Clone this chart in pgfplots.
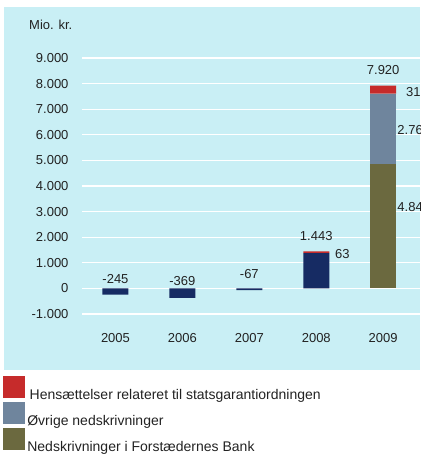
\documentclass[border=0pt]{standalone}
\usepackage{pgfplots}
\pgfplotsset{compat=1.18}
\usepackage{fontspec}
\setmainfont{Liberation Sans}
\definecolor{panel}{HTML}{C9EFF5}
\definecolor{navy}{HTML}{162B63}
\definecolor{cred}{HTML}{C62B2B}
\definecolor{slate}{HTML}{6F859D}
\definecolor{olive}{HTML}{6B693F}
\definecolor{txt}{HTML}{222222}
\tikzset{lbl/.style={text=txt, font=\fontsize{13}{15}\selectfont, inner sep=0pt}}
\begin{document}
\begin{tikzpicture}
\fill[panel] (4pt,85pt) rectangle (420pt,448pt);
\node[anchor=west, text=txt, font=\fontsize{13}{15}\selectfont, inner sep=0pt] at (29pt,430pt) {Mio. kr.};
\begin{axis}[
  at={(82pt,141pt)}, anchor=south west,
  scale only axis, width=338pt, height=256pt,
  ybar stacked, bar width=26pt,
  xmin=-0.5, xmax=4.55, ymin=-1000, ymax=9000,
  xtick={0,1,2,3,4}, xticklabels={2005,2006,2007,2008,2009},
  ytick={-1000,0,1000,2000,3000,4000,5000,6000,7000,8000,9000},
  yticklabels={-1.000,0,1.000,2.000,3.000,4.000,5.000,6.000,7.000,8.000,9.000},
  ymajorgrids, grid style={white, line width=1.3pt},
  axis line style={draw=none}, tick style={draw=none},
  major tick length=0pt,
  ticklabel style={text=txt, font=\fontsize{13}{15}\selectfont},
  yticklabel style={xshift=-10pt},
  xticklabel style={yshift=-16pt},
  clip=false,
  reverse legend,
  legend image code/.code={\fill[#1] (0pt,-2.8pt) rectangle (21.7pt,18.9pt);},
  legend style={at={(-0.2328,-0.2422)}, anchor=north west, draw=none, fill=none,
    inner sep=0pt, outer sep=0pt, row sep=1.2pt,
    font=\fontsize{14}{16}\selectfont\color{txt},
    nodes={inner sep=0pt}},
  legend cell align=left,
]
\addplot[fill=navy, draw=none, forget plot] coordinates {(0,-245) (1,-369) (2,-67) (3,1380) (4,0)};
\addplot[fill=olive, draw=none] coordinates {(0,0) (1,0) (2,0) (3,0) (4,4846)};
\addlegendentry{\,Nedskrivninger i Forstædernes Bank}
\addplot[fill=slate, draw=none] coordinates {(0,0) (1,0) (2,0) (3,0) (4,2764)};
\addlegendentry{\,Øvrige nedskrivninger}
\addplot[fill=cred, draw=none] coordinates {(0,0) (1,0) (2,0) (3,63) (4,310)};
\addlegendentry{\,\,Hensættelser relateret til statsgarantiordningen}
\node[lbl] at (axis cs:0,375) {-245};
\node[lbl] at (axis cs:1,270) {-369};
\node[lbl] at (axis cs:2,570) {-67};
\node[lbl] at (axis cs:3,2055) {1.443};
\node[lbl, anchor=west] at (axis cs:3.28,1350) {63};
\node[lbl] at (axis cs:4,8540) {7.920};
\node[lbl, anchor=west, overlay] at (axis cs:4.34,7680) {310};
\node[lbl, anchor=west, overlay] at (axis cs:4.21,6190) {2.764};
\node[lbl, anchor=west, overlay] at (axis cs:4.21,3180) {4.846};
\end{axis}
\path[use as bounding box] (0pt,0pt) rectangle (420pt,455pt);
\end{tikzpicture}
\end{document}
